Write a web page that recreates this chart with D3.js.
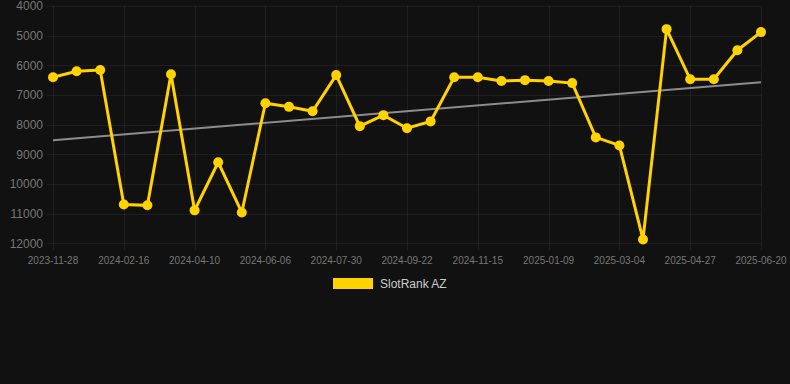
<!DOCTYPE html>
<html><head><meta charset="utf-8">
<script src="https://cdn.jsdelivr.net/npm/d3@7"></script>
<style>html,body{margin:0;padding:0;background:#111111;overflow:hidden}svg{display:block}</style>
</head><body>
<script>
const dates = ["2023-11-28","2023-12-25","2024-01-20","2024-02-16","2024-03-05","2024-03-23","2024-04-10","2024-04-29","2024-05-18","2024-06-06","2024-06-24","2024-07-12","2024-07-30","2024-08-17","2024-09-04","2024-09-22","2024-10-10","2024-10-28","2024-11-15","2024-12-03","2024-12-21","2025-01-09","2025-01-27","2025-02-14","2025-03-04","2025-03-22","2025-04-09","2025-04-27","2025-05-15","2025-06-02","2025-06-20"];
const values = [6400,6200,6160,10690,10720,6300,10890,9270,10960,7280,7400,7550,6330,8050,7680,8120,7890,6400,6400,6530,6500,6530,6600,8430,8700,11870,4780,6470,6470,5490,4880];
const yTicks = [4000,5000,6000,7000,8000,9000,10000,11000,12000];
const seriesName = "SlotRank AZ";

const W = 790, H = 384;
const svg = d3.select("body").append("svg").attr("width", W).attr("height", H);
svg.append("rect").attr("width", W).attr("height", H).attr("fill", "#111111");

const x = d3.scalePoint().domain(dates).range([53, 761]);
const y = d3.scaleLinear().domain([4000, 12000]).range([6, 243.3]);
const font = "Helvetica Neue, Helvetica, Arial, Liberation Sans, sans-serif";

const labelDates = dates.filter((d, i) => i % 3 === 0);
const gridColor = "rgba(255,255,255,0.055)";

// horizontal grid
svg.append("g").selectAll("line").data(yTicks).join("line")
  .attr("x1", 47).attr("x2", 761)
  .attr("y1", d => Math.round(y(d)) + 0.5).attr("y2", d => Math.round(y(d)) + 0.5)
  .attr("stroke", gridColor).attr("stroke-width", 1);
// vertical grid
svg.append("g").selectAll("line").data(labelDates).join("line")
  .attr("x1", d => Math.round(x(d)) + 0.5).attr("x2", d => Math.round(x(d)) + 0.5)
  .attr("y1", 6).attr("y2", 250)
  .attr("stroke", gridColor).attr("stroke-width", 1);

// y labels
svg.append("g").selectAll("text").data(yTicks).join("text")
  .attr("x", 43).attr("y", d => y(d)).attr("dy", "0.35em")
  .attr("text-anchor", "end").attr("font-family", font).attr("font-size", 12)
  .attr("fill", "#777777").text(d => d);
// x labels
svg.append("g").selectAll("text").data(labelDates).join("text")
  .attr("x", d => x(d)).attr("y", 260).attr("dy", "0.35em")
  .attr("text-anchor", "middle").attr("font-family", font).attr("font-size", 10)
  .attr("fill", "#777777").text(d => d);

// trend line (linear regression)
const n = values.length;
const mx = d3.mean(values, (v, i) => i), my = d3.mean(values);
const slope = d3.sum(values, (v, i) => (i - mx) * (v - my)) / d3.sum(values, (v, i) => (i - mx) ** 2);
const icpt = my - slope * mx;
svg.append("line")
  .attr("x1", x(dates[0])).attr("y1", y(icpt))
  .attr("x2", x(dates[n - 1])).attr("y2", y(icpt + slope * (n - 1)))
  .attr("stroke", "#8c8c8c").attr("stroke-width", 2);

const yellow = "#ffd200";
svg.append("path").datum(values)
  .attr("d", d3.line().x((v, i) => x(dates[i])).y(v => y(v)))
  .attr("fill", "none").attr("stroke", yellow).attr("stroke-width", 3).attr("stroke-linejoin", "miter");
svg.append("g").selectAll("circle").data(values).join("circle")
  .attr("cx", (v, i) => x(dates[i])).attr("cy", v => y(v)).attr("r", 5)
  .attr("fill", yellow);

// legend
svg.append("rect").attr("x", 333).attr("y", 278).attr("width", 40).attr("height", 11).attr("fill", yellow);
svg.append("text").attr("x", 380).attr("y", 284).attr("dy", "0.35em")
  .attr("font-family", font).attr("font-size", 12).attr("fill", "#cccccc").text(seriesName);
</script>
</body></html>
